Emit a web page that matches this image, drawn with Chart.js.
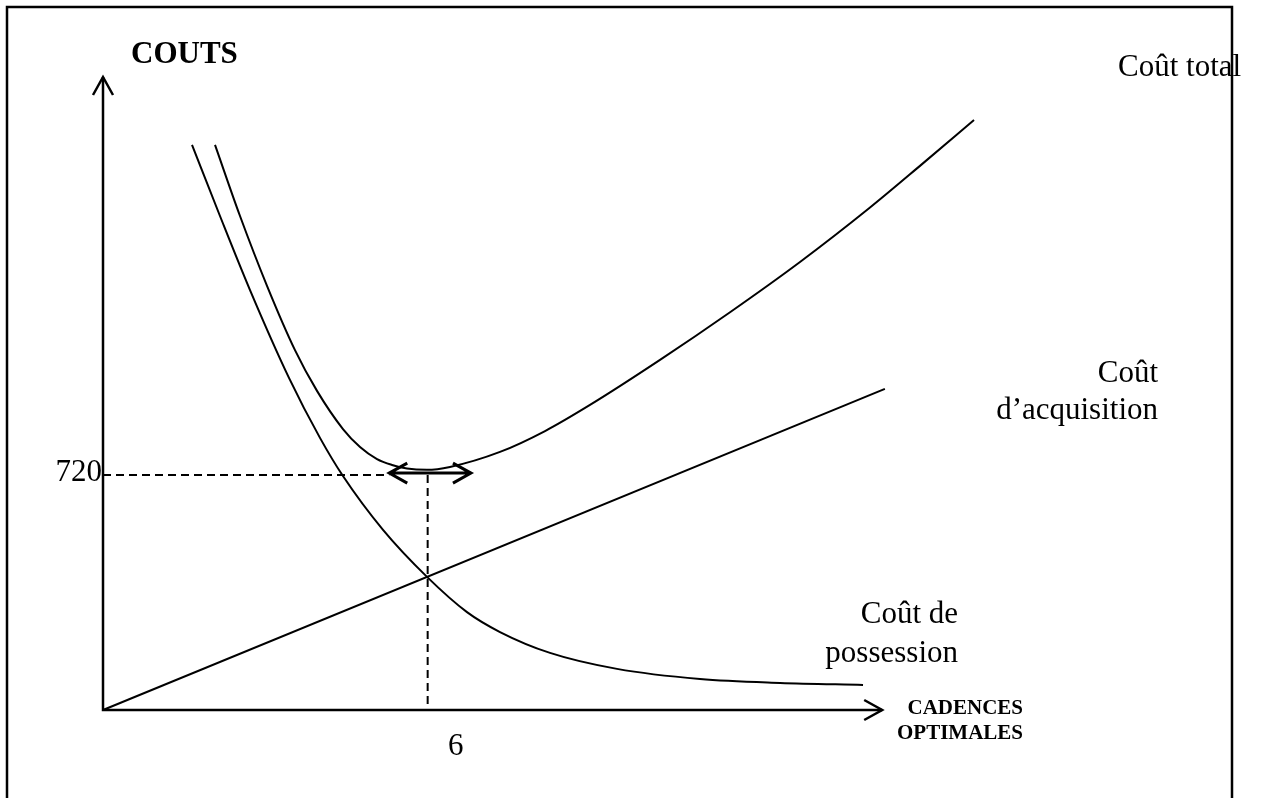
<!DOCTYPE html>
<html>
<head>
<meta charset="utf-8">
<script src="https://cdn.jsdelivr.net/npm/chart.js@4/dist/chart.umd.min.js"></script>
<style>
  html, body { margin: 0; padding: 0; background: #fff; }
  #wrap { position: relative; width: 1261px; height: 798px; }
</style>
</head>
<body>
<div id="wrap"><canvas id="chartCouts"></canvas></div>
<script>
(function () {
  'use strict';

  // cadence (x) and cost (y) values
  const possessionX = [1.645, 2.162, 2.717, 3.437, 4.010, 4.435, 5.175, 5.988, 6.727, 7.337, 8.261, 9.499, 11.033, 12.512, 14.046];
  const possessionY = [1732, 1514, 1287, 1018, 834, 717, 552, 408, 300, 239, 175, 126, 95, 83, 77];

  const totalX = [2.070, 2.532, 3.031, 3.548, 3.955, 4.435, 4.750, 5.064, 5.341, 5.618, 5.988, 6.413, 7.337, 8.169, 9.000, 10.294, 11.588, 12.881, 14.175, 15.136, 16.097];
  const totalY = [1732, 1514, 1300, 1103, 978, 861, 806, 769, 751, 740, 736, 745, 791, 855, 935, 1073, 1219, 1373, 1540, 1673, 1808];

  const acquisitionX = [0, 14.45];
  const acquisitionY = [0, 984];

  const costTicks = [720];
  const cadenceTicks = [6];

  const optimumX = 6;
  const optimumCost = 720;
  const rangeX = [5.29, 6.80];   // double arrow round the minimum
  const rangeY = 726;

  const xMax = 16.3, yMax = 1940;
  const xAxisEnd = 14.4, yAxisEnd = 1940;

  const pts = (xs, ys) => xs.map((v, i) => ({ x: v, y: ys[i] }));

  const serif = "'Liberation Serif', 'Times New Roman', serif";

  const curve = {
    showLine: true,
    borderColor: '#000',
    borderWidth: 2,
    pointRadius: 0,
    cubicInterpolationMode: 'monotone',
    fill: false,
  };

  const sketch = {
    id: 'sketch',
    afterDatasetsDraw(chart) {
      const { ctx, scales: { x, y } } = chart;
      const x0 = x.getPixelForValue(0), y0 = y.getPixelForValue(0);
      const xe = x.getPixelForValue(xAxisEnd), ye = y.getPixelForValue(yAxisEnd);
      ctx.save();
      ctx.strokeStyle = '#000';
      ctx.fillStyle = '#000';

      // axes with open arrow heads
      ctx.lineWidth = 2.5;
      ctx.beginPath();
      ctx.moveTo(x0, ye); ctx.lineTo(x0, y0); ctx.lineTo(xe, y0);
      ctx.stroke();
      ctx.beginPath();
      ctx.moveTo(x0 - 10, ye + 18); ctx.lineTo(x0, ye); ctx.lineTo(x0 + 10, ye + 18);
      ctx.moveTo(xe - 18, y0 - 10); ctx.lineTo(xe, y0); ctx.lineTo(xe - 18, y0 + 10);
      ctx.stroke();

      // double arrow at the optimum
      const ax1 = x.getPixelForValue(rangeX[0]), ax2 = x.getPixelForValue(rangeX[1]);
      const ay = y.getPixelForValue(rangeY);
      ctx.lineWidth = 3;
      ctx.beginPath();
      ctx.moveTo(ax1, ay); ctx.lineTo(ax2, ay);
      ctx.moveTo(ax1 + 18, ay - 10); ctx.lineTo(ax1, ay); ctx.lineTo(ax1 + 18, ay + 10);
      ctx.moveTo(ax2 - 18, ay - 10); ctx.lineTo(ax2, ay); ctx.lineTo(ax2 - 18, ay + 10);
      ctx.stroke();

      // tick labels
      ctx.font = '31px ' + serif;
      ctx.textBaseline = 'alphabetic';
      ctx.textAlign = 'right';
      costTicks.forEach(v => ctx.fillText(String(v), x0 - 1, y.getPixelForValue(v) + 6));
      ctx.textAlign = 'center';
      cadenceTicks.forEach(v => ctx.fillText(String(v), x.getPixelForValue(v) + 28, y0 + 45));

      // curve names
      ctx.textAlign = 'left';
      ctx.fillText('Coût total', 1118, 76);
      ctx.textAlign = 'right';
      ctx.fillText('Coût', 1158, 382);
      ctx.fillText('d\u2019acquisition', 1158, 419);
      ctx.fillText('Coût de', 958, 623);
      ctx.fillText('possession', 958, 662);

      // axis titles
      ctx.font = 'bold 31px ' + serif;
      ctx.textAlign = 'left';
      ctx.fillText('COUTS', 131, 63);
      ctx.font = 'bold 21px ' + serif;
      ctx.textAlign = 'right';
      ctx.fillText('CADENCES', 1023, 714);
      ctx.fillText('OPTIMALES', 1023, 739);

      // frame (bottom edge lies below the picture)
      ctx.lineWidth = 2.5;
      ctx.beginPath();
      ctx.moveTo(7, 800); ctx.lineTo(7, 7); ctx.lineTo(1232, 7); ctx.lineTo(1232, 800);
      ctx.stroke();
      ctx.restore();
    },
  };

  new Chart(document.getElementById('chartCouts'), {
    type: 'scatter',
    data: {
      datasets: [
        { ...curve, label: 'Coût de possession', data: pts(possessionX, possessionY) },
        { ...curve, label: 'Coût total', data: pts(totalX, totalY) },
        { ...curve, label: 'Coût d\u2019acquisition', data: pts(acquisitionX, acquisitionY), cubicInterpolationMode: 'default', tension: 0 },
        {
          ...curve, label: 'repère coût', tension: 0, cubicInterpolationMode: 'default',
          data: [{ x: 0, y: optimumCost }, { x: rangeX[0], y: optimumCost }],
          borderDash: [8, 5], borderWidth: 2,
        },
        {
          ...curve, label: 'repère cadence', tension: 0, cubicInterpolationMode: 'default',
          data: [{ x: optimumX, y: optimumCost }, { x: optimumX, y: 0 }],
          borderDash: [8, 5], borderWidth: 2,
        },
      ],
    },
    options: {
      responsive: true,
      maintainAspectRatio: false,
      animation: false,
      clip: false,
      layout: { padding: { left: 103, right: 276, top: 77, bottom: 88 } },
      plugins: { legend: { display: false }, tooltip: { enabled: false } },
      scales: {
        x: { type: 'linear', min: 0, max: xMax, display: false },
        y: { type: 'linear', min: 0, max: yMax, display: false },
      },
    },
    plugins: [sketch],
  });

})();
</script>
</body>
</html>
